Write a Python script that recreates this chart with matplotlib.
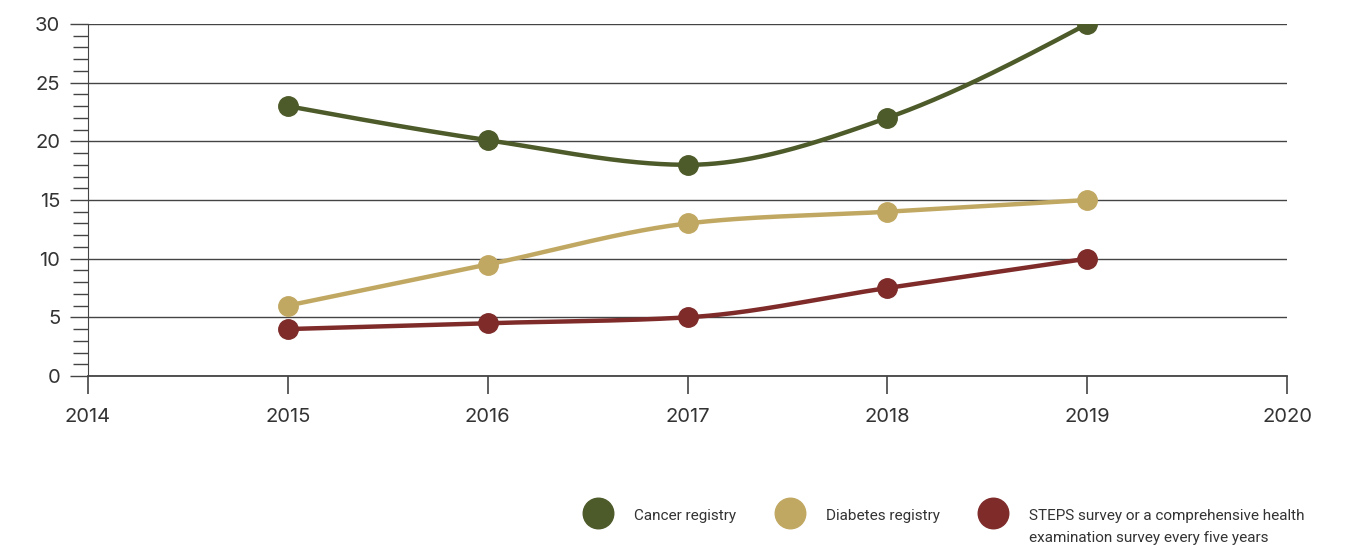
import numpy as np
import matplotlib.pyplot as plt
from matplotlib.lines import Line2D
from matplotlib.ticker import MultipleLocator

# datos
years = [2015, 2016, 2017, 2018, 2019]
cancer = [23, 20.1, 18, 22, 30]
diabetes = [6, 9.5, 13, 14, 15]
steps = [4, 4.5, 5, 7.5, 10]

labels = ["Cancer registry", "Diabetes registry",
          "STEPS survey or a comprehensive health\nexamination survey every five years"]
colors = ["#4d5a29", "#c1a862", "#7e2b2a"]


def monotone(x, y, n=200):
    # curva monotona tipo d3.curveMonotoneX
    x = np.asarray(x, float)
    y = np.asarray(y, float)
    h = np.diff(x)
    d = np.diff(y) / h
    m = np.zeros_like(y)
    for i in range(1, len(y) - 1):
        if d[i - 1] * d[i] <= 0:
            m[i] = 0
        else:
            m[i] = (np.sign(d[i - 1]) + np.sign(d[i])) * min(abs(d[i - 1]), abs(d[i]),
                                                              0.5 * abs((d[i - 1] * h[i] + d[i] * h[i - 1]) / (h[i - 1] + h[i])))
    m[0] = (3 * d[0] - m[1]) / 2
    m[-1] = (3 * d[-1] - m[-2]) / 2
    xs, ys = [], []
    for i in range(len(h)):
        t = np.linspace(0, 1, n)
        h00 = 2 * t**3 - 3 * t**2 + 1
        h10 = t**3 - 2 * t**2 + t
        h01 = -2 * t**3 + 3 * t**2
        h11 = t**3 - t**2
        xs.append(x[i] + t * h[i])
        ys.append(h00 * y[i] + h10 * h[i] * m[i] + h01 * y[i + 1] + h11 * h[i] * m[i + 1])
    return np.concatenate(xs), np.concatenate(ys)


fig = plt.figure(figsize=(13.48, 5.45), dpi=100)
ax = fig.add_axes([88 / 1348, 1 - 376 / 545, (1287 - 88) / 1348, 352 / 545])

for serie, c in zip([cancer, diabetes, steps], colors):
    xs, ys = monotone(years, serie)
    ax.plot(xs, ys, color=c, lw=3.2, solid_capstyle="round", zorder=3)
    ax.plot(years, serie, "o", color=c, ms=14, zorder=4)

ax.set_xlim(2014, 2020)
ax.set_ylim(0, 30)
ax.set_xticks(range(2014, 2021))
ax.set_yticks(range(0, 31, 5))
ax.yaxis.set_minor_locator(MultipleLocator(1))
ax.grid(axis="y", which="major", color="#444444", lw=1.0)
ax.set_axisbelow(True)

for s in ["top", "right"]:
    ax.spines[s].set_visible(False)
ax.spines["left"].set_color("#444444")
ax.spines["bottom"].set_color("#444444")
ax.spines["bottom"].set_linewidth(1.3)

ax.tick_params(axis="y", which="major", length=13, width=1, color="#444444",
               labelsize=14.5, labelcolor="#333333", pad=7)
ax.tick_params(axis="y", which="minor", length=11, width=1, color="#444444")
ax.tick_params(axis="x", length=13, width=1.2, color="#444444",
               labelsize=14.5, labelcolor="#333333", pad=10)
for lab in ax.get_xticklabels() + ax.get_yticklabels():
    lab.set_fontfamily("Inter")

# leyenda manual
mx = [598, 790, 993]
tx = [634, 826, 1029]
for i in range(3):
    fig.add_artist(Line2D([mx[i] / 1348], [1 - 513 / 545], marker="o", ms=22,
                          color=colors[i], transform=fig.transFigure))
    fig.text(tx[i] / 1348, 1 - 509 / 545, labels[i], fontsize=11, family="Roboto",
             color="#333333", va="top", ha="left", linespacing=1.7)

fig.savefig("out.png", dpi=100)
